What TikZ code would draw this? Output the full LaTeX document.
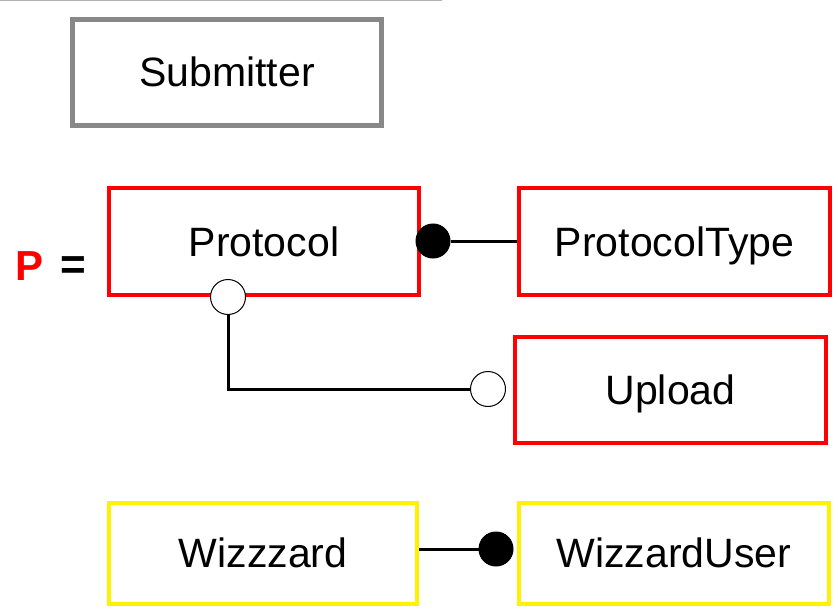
\documentclass[tikz,border=0pt]{standalone}
\usepackage{fontspec}
\setmainfont{Liberation Sans}
\begin{document}
\begin{tikzpicture}[x=1pt,y=-1pt,
  ent/.style={draw, rectangle, fill=white, inner sep=0pt, text height=29pt, text depth=0pt, font=\fontsize{41}{48}\selectfont},
  grayent/.style={ent, draw=gray55, line width=5pt},
  redent/.style={ent, draw=red, line width=4pt},
  yelent/.style={ent, draw=yellow, line width=4pt},
  link/.style={draw=black, line width=3pt},
  dotfull/.style={circle, fill=black, draw=black, line width=1pt, minimum size=34pt, inner sep=0pt},
  dotopen/.style={circle, fill=white, draw=black, line width=1pt, minimum size=35pt, inner sep=0pt}
]
\definecolor{gray55}{HTML}{888888}
\useasboundingbox (0,0) rectangle (838,615);
\coordinate (tl) at (0,0.5);
\coordinate (tr) at (442,0.5);
\draw[gray!60, line width=1.5pt] (tl) -- (tr);

\node[grayent, minimum width=309pt, minimum height=106pt] (sub) at (227,72.5) {Submitter};

\node[redent, minimum width=310pt, minimum height=107pt] (prot) at (264,241.5) {Protocol};
\node[redent, minimum width=311pt, minimum height=107pt] (ptype) at (674.5,241.5) {ProtocolType};
\node[redent, minimum width=311pt, minimum height=106pt] (upl) at (670.5,389.5) {Upload};

\node[yelent, minimum width=308pt, minimum height=101pt] (wiz) at (263,553) {Wizzzard};
\node[yelent, minimum width=310pt, minimum height=101pt] (wuser) at (674,553) {WizzardUser};

\node[font=\fontsize{42}{48}\selectfont\bfseries, text=red, anchor=base] (P) at (30,280) {P};
\node[font=\fontsize{44}{48}\selectfont\bfseries, anchor=base] (eq) at (73,279) {=};

% Protocol -- ProtocolType
\node[dotfull] (c1) at (433,241) {};
\draw[link] (c1) -- (ptype.west |- c1);

% Protocol -- Upload
\node[dotopen] (c2) at (228,297) {};
\node[dotopen] (c3) at (488,389) {};
\coordinate (corner) at (228,389);
\draw[link] (c2.south) -- (corner) -- (c3.west);

% Wizzzard -- WizzardUser
\node[dotfull] (c4) at (496,549) {};
\draw[link] (wiz.east |- c4) -- (c4);
\end{tikzpicture}
\end{document}
